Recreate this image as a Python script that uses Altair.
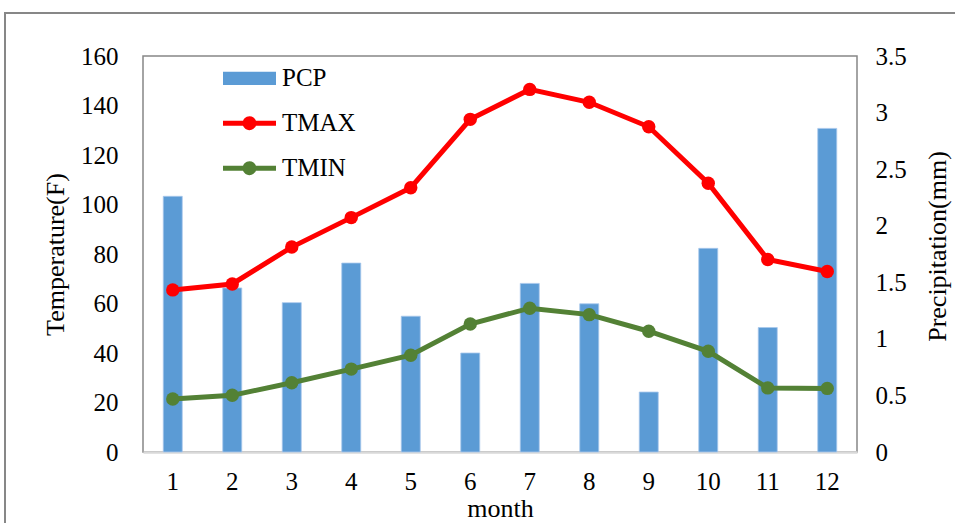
import altair as alt
import pandas as pd

# ---- data ----
months = list(range(1, 13))
pcp = [2.26, 1.45, 1.32, 1.67, 1.20, 0.875, 1.49, 1.31, 0.53, 1.80, 1.10, 2.86]
tmax = [65.5, 67.9, 82.8, 94.7, 106.8, 134.4, 146.5, 141.3, 131.4, 108.6, 77.8, 72.9]
tmin = [21.4, 22.9, 28.0, 33.5, 39.1, 51.7, 58.1, 55.5, 48.8, 40.7, 25.9, 25.7]
series_names = ["PCP", "TMAX", "TMIN"]
series_colors = ["#5B9BD5", "#FF0000", "#538135"]
temp_ticks = [0, 20, 40, 60, 80, 100, 120, 140, 160]
pcp_ticks = [0, 0.5, 1, 1.5, 2, 2.5, 3, 3.5]

bars_df = pd.DataFrame({"month": months, "value": pcp})
tmax_df = pd.DataFrame({"month": months, "value": tmax})
tmin_df = pd.DataFrame({"month": months, "value": tmin})
legend_df = pd.DataFrame({"series": series_names})
frame_df = pd.DataFrame({"k": [0]})

FONT = "Liberation Serif"
W, H = 714, 396
LBL = 25
TTL = 26

rect_path = "M-1,-0.25H1V0.25H-1Z"
line_path = ("M-1,-0.09H1V0.09H-1Z "
             "M0.26,0A0.26,0.26 0 1,1 -0.26,0A0.26,0.26 0 1,1 0.26,0Z")

color_scale = alt.Scale(domain=series_names, range=series_colors)
shape_scale = alt.Scale(domain=series_names, range=[rect_path, line_path, line_path])

x_enc = alt.X(
    "month:O",
    axis=alt.Axis(
        title="month", labelAngle=0, ticks=False, labelPadding=17,
        domainColor="#D9D9D9", domainWidth=2.5,
        labelFont=FONT, labelFontSize=LBL, labelColor="black",
        titleFont=FONT, titleFontSize=TTL, titleColor="black", titleFontWeight="normal",
        titleY=64, titleBaseline="alphabetic",
    ),
    scale=alt.Scale(paddingInner=0, paddingOuter=0),
)

temp_axis = alt.Axis(
    title="Temperature(F)", values=temp_ticks, grid=False, ticks=False, domain=False,
    labelPadding=25, labelFont=FONT, labelFontSize=LBL, labelColor="black",
    titleFont=FONT, titleFontSize=TTL, titleColor="black", titleFontWeight="normal",
    titleX=-88, titleY=H / 2, titleBaseline="middle", titleAngle=270,
)
pcp_axis = alt.Axis(
    title="Precipitation(mm)", orient="right", values=pcp_ticks, format="~g",
    grid=False, ticks=False, domain=False,
    labelPadding=18, labelFont=FONT, labelFontSize=LBL, labelColor="black",
    titleFont=FONT, titleFontSize=TTL, titleColor="black", titleFontWeight="normal",
    titleX=80, titleY=H / 2 - 8, titleBaseline="middle", titleAngle=270,
)

frame = alt.Chart(frame_df).mark_rect(
    fillOpacity=0, stroke="#878787", strokeWidth=2
).encode(
    x=alt.value(-138), x2=alt.value(1200), y=alt.value(-43), y2=alt.value(800)
)

bars = alt.Chart(bars_df).mark_bar(
    size=19, color=series_colors[0], stroke="#A8C8EC", strokeWidth=0.8
).encode(
    x=x_enc,
    y=alt.Y("value:Q", axis=pcp_axis, scale=alt.Scale(domain=[0, 3.5])),
)


def temp_layers(df, color, show_axis):
    y = alt.Y("value:Q", axis=temp_axis if show_axis else None,
              scale=alt.Scale(domain=[0, 160]))
    line = alt.Chart(df).mark_line(strokeWidth=5, color=color).encode(x=x_enc, y=y)
    pts = alt.Chart(df).mark_circle(size=180, opacity=1, color=color).encode(
        x=x_enc, y=alt.Y("value:Q", axis=None, scale=alt.Scale(domain=[0, 160])))
    return [line, pts]


leg_props = dict(
    title=None, orient="none", legendX=80, legendY=0,
    symbolSize=2809, symbolStrokeWidth=0, symbolOpacity=1,
    clipHeight=44.5, rowPadding=0, labelOffset=6,
    labelFont=FONT, labelFontSize=LBL, labelColor="black", labelLimit=300,
)
legend_layer = alt.Chart(legend_df).mark_point(filled=True, opacity=0).encode(
    color=alt.Color("series:N", scale=color_scale, legend=alt.Legend(**leg_props)),
    shape=alt.Shape("series:N", scale=shape_scale, legend=alt.Legend(**leg_props)),
)

chart = alt.layer(
    frame, bars,
    *temp_layers(tmax_df, series_colors[1], True),
    *temp_layers(tmin_df, series_colors[2], False),
    legend_layer,
).resolve_scale(
    y="independent"
).properties(
    width=W, height=H,
    autosize=alt.AutoSizeParams(type="none"),
    padding={"left": 143, "top": 56, "right": 98, "bottom": 71},
    background="white",
).configure_view(
    stroke="#878787", strokeWidth=1.5
)

chart.save("out.html", embed_options={"renderer": "svg", "actions": False})
